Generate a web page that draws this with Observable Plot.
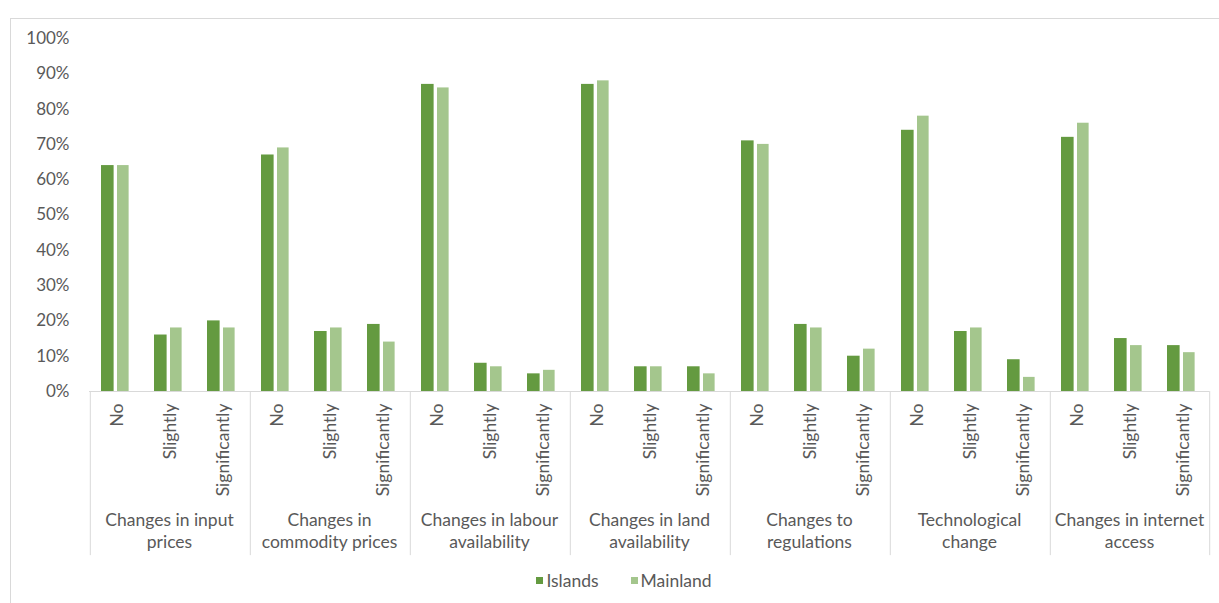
<!DOCTYPE html>
<html><head><meta charset="utf-8">
<script src="https://cdn.jsdelivr.net/npm/d3@7"></script>
<script src="https://cdn.jsdelivr.net/npm/@observablehq/plot@0.6"></script>
<style>
body{margin:0;background:#fff;font-family:Lato,sans-serif;}
#frame{position:absolute;left:10px;top:18px;width:1300px;height:700px;border:1px solid #d9d9d9;}
#chart{position:absolute;left:0;top:0;}
#legend{position:absolute;top:564px;left:0;width:1280px;display:flex;justify-content:center;}
#legend span{margin-right:32px !important;}
#legend span > svg{margin-right:3px !important;}
</style></head><body>
<div id="frame"></div><div id="chart"></div><div id="legend"></div>
<script>
const categories = ["Changes in input prices","Changes in commodity prices","Changes in labour availability","Changes in land availability","Changes to regulations","Technological change","Changes in internet access"];
const categoryLines = [["Changes in input","prices"],["Changes in","commodity prices"],["Changes in labour","availability"],["Changes in land","availability"],["Changes to","regulations"],["Technological","change"],["Changes in internet","access"]];
const responses = ["No","Slightly","Significantly"];
const series = ["Islands","Mainland"];
const islands  = [64,16,20, 67,17,19, 87,8,5, 87,7,7, 71,19,10, 74,17,9, 72,15,13];
const mainland = [64,18,18, 69,18,14, 86,7,6, 88,7,5, 70,18,12, 78,18,4, 76,13,11];
const yTicks = [0,10,20,30,40,50,60,70,80,90,100];
const colors = ["#649a40","#a4c68d"];

const rows = [];
categories.forEach((c,i)=>responses.forEach((r,j)=>rows.push({category:c,response:r,Islands:islands[i*3+j],Mainland:mainland[i*3+j]})));

const W=1219,H=560,mL=88,mR=10,mT=38,mB=169;
const slot=(W-mL-mR)/(categories.length*responses.length);
const txt="#595959", line="#d9d9d9";
const font="Lato, sans-serif";
const fs=17.5;

const chart = Plot.plot({
  width:W,height:H,marginLeft:mL,marginRight:mR,marginTop:mT,marginBottom:mB,
  style:{fontFamily:font,fontSize:fs+"px",color:txt,background:"transparent",overflow:"visible"},
  fx:{domain:categories,padding:0,label:null},
  x:{domain:responses,padding:0,label:null},
  y:{domain:[0,100],label:null},
  marks:[
    Plot.axisY({ticks:yTicks,tickSize:0,tickPadding:20,tickFormat:d=>d+"%",fontSize:17,fill:txt}),
    Plot.barY(rows,{fx:"category",x:"response",y:"Islands",fill:colors[0],insetLeft:11,insetRight:slot-24}),
    Plot.barY(rows,{fx:"category",x:"response",y:"Mainland",fill:colors[1],insetLeft:27,insetRight:slot-39}),
    Plot.ruleY([0],{stroke:line,strokeWidth:1}),
    Plot.ruleX(["No"],{x:d=>d,dx:-slot/2,y1:0,y2:-46.5,stroke:line}),
    Plot.ruleX([{category:categories[categories.length-1],response:"Significantly"}],{fx:"category",x:"response",dx:slot/2,y1:0,y2:-46.5,stroke:line}),
    Plot.axisX({tickRotate:-90,tickSize:0,tickPadding:12,fontSize:fs,fill:txt,label:null}),
    Plot.axisFx({anchor:"bottom",tickSize:0,tickPadding:119,fontSize:fs,fill:txt,lineHeight:1.26,label:null,
      tickFormat:d=>categoryLines[categories.indexOf(d)].join("\n")})
  ]
});
document.getElementById("chart").append(chart);

const leg = Plot.legend({color:{domain:series,range:colors},legend:"swatches",swatchSize:7,
  style:{fontFamily:font,fontSize:fs+"px",color:txt}});
document.getElementById("legend").append(leg);
</script></body></html>
